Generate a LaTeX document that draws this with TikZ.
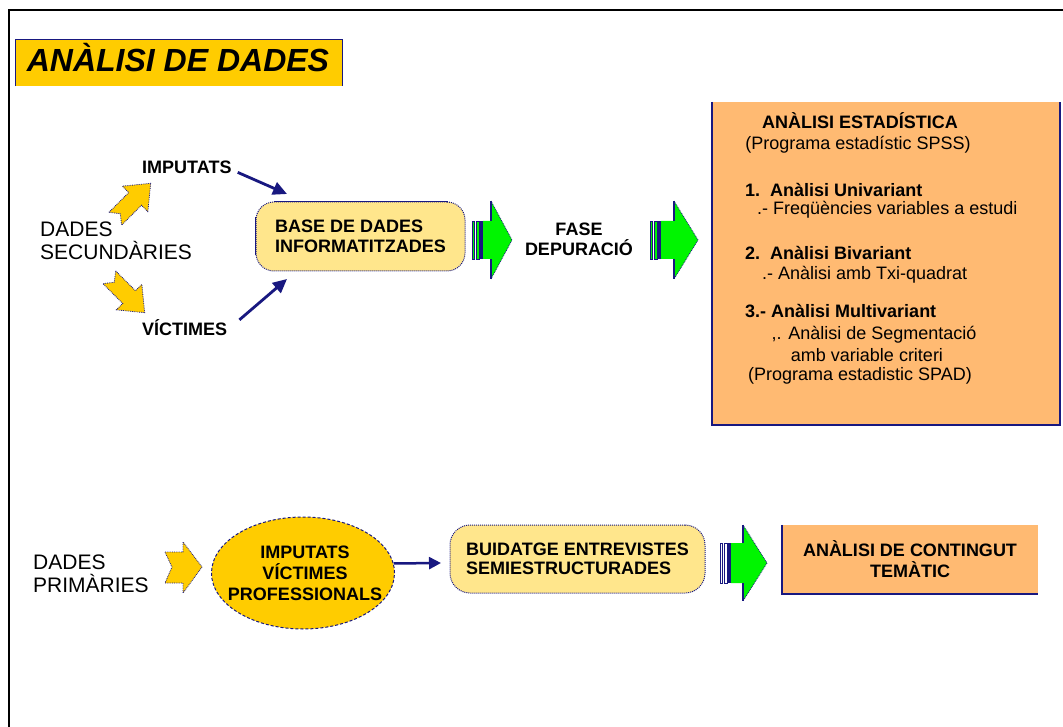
\documentclass[tikz,border=0pt]{standalone}
\usepackage{fontspec}
\setmainfont{Liberation Sans}
\usetikzlibrary{arrows.meta,shapes.geometric}
\definecolor{gold}{RGB}{255,204,0}
\definecolor{paleyel}{RGB}{255,230,140}
\definecolor{orng}{RGB}{255,186,114}
\definecolor{navy}{RGB}{24,24,128}
\definecolor{grn}{RGB}{0,245,0}
\newcommand{\garrow}[7]{%
  \filldraw[fill=#7, draw=navy, line width=0.6pt] (#1,{#4-#6}) rectangle ({#1+2.5},{#4+#6});
  \filldraw[fill=#7, draw=navy, line width=0.6pt] ({#1+4.5},{#4-#6}) rectangle ({#1+7},{#4+#6});
  \fill[navy] ({#1+8},{#4-#6}) rectangle ({#1+11},{#4+#6});
  \fill[grn] ({#1+11},{#4-#6}) -- (#2,{#4-#6}) -- (#2,{#4-#5}) -- (#3,#4) -- (#2,{#4+#5}) -- (#2,{#4+#6}) -- ({#1+11},{#4+#6}) -- cycle;
  \draw[navy, line width=0.8pt, densely dotted] (#2,{#4-#5}) -- (#3,#4) -- (#2,{#4+#5});
  \draw[navy, line width=1.3pt] (#2,{#4-#6}) -- (#2,{#4-#5});
  \draw[navy, line width=1.3pt] (#2,{#4+#6}) -- (#2,{#4+#5});
}
\newcommand{\leafshape}[3]{%
  \filldraw[fill=gold, draw=navy, line width=0.8pt, densely dotted, shift={(#1,#2)}, rotate=#3]
    (-25,-9) -- (3,-9) -- (3,-18) -- (25,0) -- (3,18) -- (3,9) -- (-25,9) -- (-18,0) -- cycle;
}
\begin{document}
\begin{tikzpicture}[x=1pt,y=-1pt,
  boldt/.style={font=\fontsize{18}{20}\selectfont\bfseries, inner sep=0pt},
  regt/.style={font=\fontsize{18}{20}\selectfont, inner sep=0pt},
  bigt/.style={font=\fontsize{21}{23}\selectfont, inner sep=0pt, anchor=base west},
  link/.style={navy, line width=2.8pt, -{Triangle[length=14pt,width=13pt]}},
  edge/.style={navy, line width=1.5pt},
  roundbox/.style={draw=navy, densely dotted, line width=1pt, fill=paleyel, inner sep=0pt, align=left},
]
\useasboundingbox (0,0) rectangle (1063,727);
\fill[white] (0,0) rectangle (1063,727);

% frame
\draw[black, line width=2.5pt] (9,727) -- (9,10) -- (1063,10);

% title
\node[fill=gold, minimum width=326pt, minimum height=46pt, inner sep=0pt] (titlebox) at (179,63) {};
\draw[edge, line width=1pt] (titlebox.south west) -- (titlebox.north west) -- (titlebox.north east) -- (titlebox.south east);
\node[font=\fontsize{32}{36}\selectfont\bfseries\itshape, inner sep=0pt, anchor=base] (title) at (178,72) {ANÀLISI DE DADES};

% secondary data
\node[bigt] (ds1) at (40,237) {DADES};
\node[bigt] (ds2) at (40,260) {SECUNDÀRIES};
\leafshape{133}{201}{45}
\leafshape{127}{295}{-45}
\node[boldt, anchor=base west] (imp) at (142,174) {IMPUTATS};
\node[boldt, anchor=base west] (vic) at (142,335) {VÍCTIMES};

\node[roundbox, rounded corners=18pt, minimum width=209pt, minimum height=69pt, font=\fontsize{18}{20}\selectfont\bfseries] (base) at (360.5,236.5) {BASE DE DADES\\INFORMATITZADES};
\draw[navy, line width=1.2pt] ([xshift=18pt]base.north west) -- ([xshift=-18pt]base.north east);
\draw[navy, line width=1.2pt] ([yshift=-16pt]base.north west) -- ([yshift=16pt]base.south west);

\coordinate (impend) at (287,194);
\coordinate (vicend) at (287,279);
\draw[link] ([xshift=6pt,yshift=2pt]imp.south east) -- (impend);
\draw[link] ([xshift=12pt,yshift=-1pt]vic.north east) -- (vicend);

% green arrows, first row
\garrow{472}{491}{512}{240}{39}{19}{grn}
\node[boldt, align=center] (fase) at (579,239) {FASE\\DEPURACIÓ};
\garrow{650}{674}{698}{240}{39}{19}{grn}

% statistics box
\node[fill=orng, minimum width=348pt, minimum height=323pt, inner sep=0pt] (stat) at (886,263.5) {};
\draw[edge] (stat.north west) -- (stat.south west) -- (stat.south east) -- (stat.north east);
\node[boldt, anchor=base] (s1) at (860,129) {ANÀLISI ESTADÍSTICA};
\node[regt, anchor=base] (s2) at (858,150) {(Programa estadístic SPSS)};
\node[boldt, anchor=base west] (s3) at (745,197) {1.\ \ Anàlisi Univariant};
\node[regt, anchor=base west] (s4) at (757,215) {.- Freqüències variables a estudi};
\node[boldt, anchor=base west] (s5) at (745,260) {2.\ \ Anàlisi Bivariant};
\node[regt, anchor=base west] (s6) at (762,280) {.- Anàlisi amb Txi-quadrat};
\node[boldt, anchor=base west] (s7) at (745,318) {3.- Anàlisi Multivariant};
\node[regt, anchor=base] (s8) at (874,340) {,. Anàlisi de Segmentació};
\node[regt, anchor=base] (s9) at (867,361) {amb variable criteri};
\node[regt, anchor=base] (s10) at (860,381) {(Programa estadistic SPAD)};

% primary data
\node[bigt] (dp1) at (33,569) {DADES};
\node[bigt] (dp2) at (33,592) {PRIMÀRIES};
\filldraw[fill=gold, draw=navy, line width=0.8pt, densely dotted]
  (165,552) -- (183,552) -- (183,542) -- (202,567) -- (183,593) -- (183,583) -- (165,583) -- (172,567) -- cycle;

\node[ellipse, fill=gold, draw=navy, densely dashed, line width=1pt, minimum width=183pt, minimum height=112pt, inner sep=0pt] (ell) at (303,573) {};
\node[align=center, inner sep=0pt, font=\fontsize{18}{21}\selectfont\bfseries] (elltext) at (305,573) {IMPUTATS\\VÍCTIMES\\PROFESSIONALS};

\node[roundbox, rounded corners=20pt, minimum width=255pt, minimum height=68pt, font=\fontsize{18}{19}\selectfont\bfseries] (buid) at (577.5,559) {BUIDATGE ENTREVISTES\\SEMIESTRUCTURADES};

\coordinate (buidin) at (441,563);
\draw[navy, line width=2.5pt, -{Triangle[length=12pt,width=12pt]}] (ell.6.5) -- (buidin);

\garrow{720}{743}{767}{563}{38}{20}{white}

\node[fill=orng, minimum width=256pt, minimum height=69pt, inner sep=0pt, align=center, font=\fontsize{18}{21}\selectfont\bfseries] (cont) at (910,559.5) {ANÀLISI DE CONTINGUT\\TEMÀTIC};
\draw[edge] (cont.north west) -- (cont.south west) -- (cont.south east);
\end{tikzpicture}
\end{document}
